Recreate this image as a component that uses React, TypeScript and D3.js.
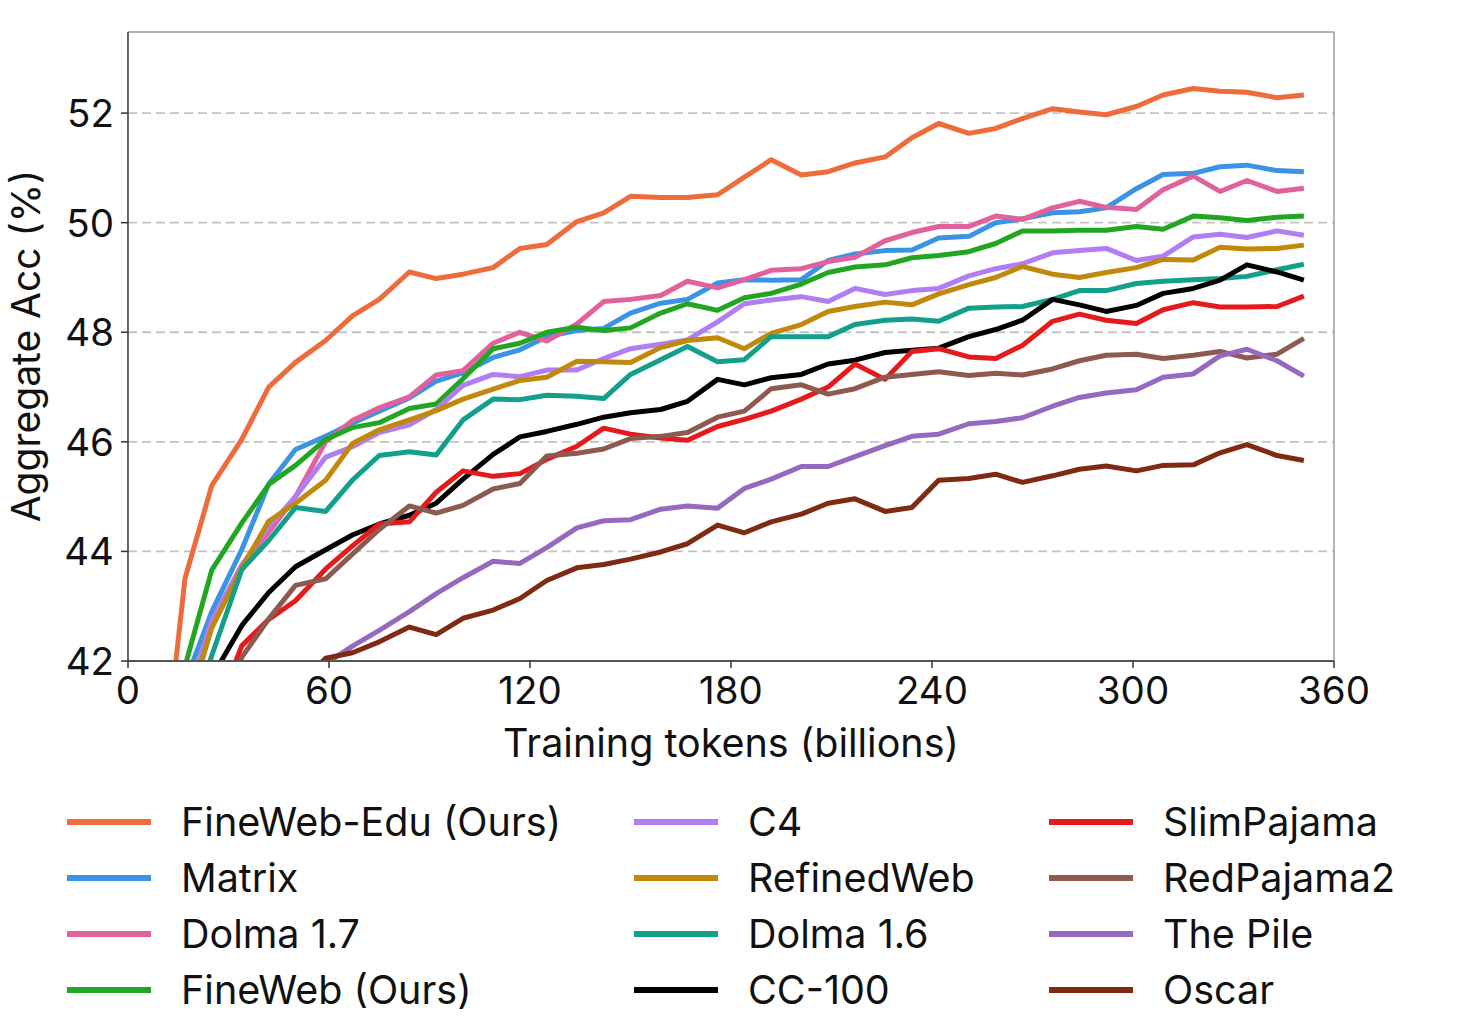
import * as d3 from "d3";

// training tokens (billions) at each checkpoint
const tokens = [8, 17, 25, 34, 42, 50, 59, 67, 75, 84, 92, 100, 109, 117, 125, 134, 142, 150, 159, 167, 176, 184, 192, 201, 209, 217, 226, 234, 242, 251, 259, 267, 276, 284, 292, 301, 309, 318, 326, 334, 343, 351];

const fineWebEdu = [38.5, 43.5, 45.2, 46.05, 47.0, 47.45, 47.85, 48.3, 48.6, 49.1, 48.98, 49.06, 49.18, 49.53, 49.6, 50.02, 50.18, 50.48, 50.46, 50.46, 50.51, 50.83, 51.15, 50.87, 50.93, 51.09, 51.2, 51.55, 51.81, 51.63, 51.72, 51.9, 52.08, 52.02, 51.97, 52.12, 52.33, 52.45, 52.4, 52.38, 52.28, 52.33];
const matrix = [37.5, 41.6, 42.9, 44.04, 45.23, 45.86, 46.1, 46.34, 46.56, 46.8, 47.11, 47.26, 47.54, 47.68, 47.92, 48.03, 48.07, 48.35, 48.53, 48.6, 48.9, 48.96, 48.95, 48.96, 49.31, 49.43, 49.49, 49.5, 49.72, 49.75, 50.0, 50.07, 50.18, 50.2, 50.27, 50.62, 50.88, 50.9, 51.02, 51.05, 50.95, 50.93];
const dolma17 = [37, 40.8, 42.7, 43.75, 44.35, 45.0, 46.0, 46.39, 46.62, 46.82, 47.22, 47.3, 47.8, 48.0, 47.84, 48.15, 48.56, 48.6, 48.67, 48.93, 48.81, 48.96, 49.13, 49.16, 49.29, 49.37, 49.67, 49.82, 49.93, 49.93, 50.12, 50.06, 50.27, 50.39, 50.28, 50.24, 50.6, 50.85, 50.57, 50.77, 50.57, 50.63];
const fineWeb = [37.5, 41.9, 43.66, 44.52, 45.22, 45.57, 46.04, 46.26, 46.35, 46.61, 46.69, 47.15, 47.7, 47.8, 48.0, 48.09, 48.03, 48.08, 48.35, 48.52, 48.4, 48.63, 48.71, 48.88, 49.09, 49.19, 49.23, 49.36, 49.4, 49.47, 49.62, 49.85, 49.85, 49.86, 49.86, 49.93, 49.88, 50.12, 50.09, 50.04, 50.1, 50.12];
const c4 = [37.2, 41.2, 42.75, 43.75, 44.45, 45.0, 45.72, 45.91, 46.17, 46.31, 46.59, 47.03, 47.23, 47.19, 47.31, 47.31, 47.52, 47.7, 47.78, 47.86, 48.19, 48.52, 48.59, 48.65, 48.56, 48.8, 48.69, 48.76, 48.8, 49.03, 49.16, 49.25, 49.45, 49.49, 49.53, 49.31, 49.39, 49.74, 49.79, 49.73, 49.85, 49.77];
const refinedWeb = [37, 41.0, 42.6, 43.7, 44.55, 44.88, 45.3, 45.97, 46.22, 46.4, 46.57, 46.78, 46.96, 47.12, 47.18, 47.47, 47.46, 47.45, 47.72, 47.85, 47.9, 47.7, 47.98, 48.14, 48.38, 48.47, 48.55, 48.5, 48.7, 48.87, 49.0, 49.2, 49.06, 49.0, 49.09, 49.18, 49.33, 49.32, 49.55, 49.52, 49.53, 49.59];
const dolma16 = [36.5, 40.5, 42.1, 43.67, 44.2, 44.8, 44.73, 45.3, 45.75, 45.82, 45.76, 46.4, 46.78, 46.77, 46.85, 46.83, 46.79, 47.23, 47.5, 47.74, 47.46, 47.5, 47.92, 47.92, 47.92, 48.14, 48.22, 48.24, 48.2, 48.44, 48.46, 48.47, 48.6, 48.76, 48.76, 48.89, 48.93, 48.96, 48.98, 49.02, 49.14, 49.24];
const cc100 = [36, 40.0, 41.7, 42.65, 43.25, 43.72, 44.03, 44.3, 44.5, 44.66, 44.88, 45.32, 45.77, 46.09, 46.19, 46.32, 46.45, 46.53, 46.59, 46.74, 47.14, 47.04, 47.17, 47.23, 47.42, 47.49, 47.63, 47.67, 47.71, 47.92, 48.05, 48.22, 48.6, 48.5, 48.38, 48.49, 48.71, 48.8, 48.95, 49.23, 49.1, 48.95];
const slimPajama = [36, 39.5, 40.9, 42.28, 42.76, 43.1, 43.68, 44.1, 44.5, 44.54, 45.08, 45.47, 45.37, 45.42, 45.68, 45.92, 46.25, 46.14, 46.07, 46.03, 46.28, 46.41, 46.56, 46.78, 47.0, 47.42, 47.14, 47.65, 47.7, 47.55, 47.52, 47.76, 48.2, 48.33, 48.22, 48.16, 48.41, 48.54, 48.46, 48.46, 48.47, 48.66];
const redPajama2 = [36, 39.3, 40.6, 42.07, 42.77, 43.38, 43.5, 43.95, 44.4, 44.83, 44.7, 44.84, 45.14, 45.24, 45.74, 45.79, 45.87, 46.06, 46.1, 46.17, 46.45, 46.56, 46.97, 47.04, 46.87, 46.97, 47.18, 47.23, 47.28, 47.21, 47.25, 47.22, 47.33, 47.48, 47.58, 47.6, 47.52, 47.58, 47.65, 47.53, 47.6, 47.89];
const thePile = [37, 38.3, 39.3, 40.2, 40.9, 41.5, 41.95, 42.27, 42.56, 42.9, 43.23, 43.52, 43.82, 43.78, 44.07, 44.43, 44.56, 44.58, 44.77, 44.83, 44.79, 45.15, 45.32, 45.55, 45.55, 45.73, 45.93, 46.1, 46.14, 46.33, 46.37, 46.44, 46.65, 46.81, 46.89, 46.95, 47.18, 47.24, 47.57, 47.69, 47.48, 47.2];
const oscar = [37.5, 38.5, 39.5, 40.3, 41.0, 41.5, 42.05, 42.15, 42.35, 42.62, 42.48, 42.78, 42.93, 43.14, 43.47, 43.7, 43.76, 43.86, 43.99, 44.14, 44.48, 44.34, 44.54, 44.68, 44.88, 44.96, 44.73, 44.8, 45.3, 45.33, 45.41, 45.26, 45.38, 45.5, 45.56, 45.47, 45.57, 45.58, 45.8, 45.95, 45.75, 45.66];

const xTicks = [0, 60, 120, 180, 240, 300, 360];
const yTicks = [42, 44, 46, 48, 50, 52];

const series = [
  { name: "FineWeb-Edu (Ours)", color: "#ee6b3b", values: fineWebEdu },
  { name: "Matrix", color: "#3a93e3", values: matrix },
  { name: "Dolma 1.7", color: "#e0619b", values: dolma17 },
  { name: "FineWeb (Ours)", color: "#22a622", values: fineWeb },
  { name: "C4", color: "#b07df3", values: c4 },
  { name: "RefinedWeb", color: "#c0890b", values: refinedWeb },
  { name: "Dolma 1.6", color: "#12a08a", values: dolma16 },
  { name: "CC-100", color: "#000000", values: cc100 },
  { name: "SlimPajama", color: "#e41a1c", values: slimPajama },
  { name: "RedPajama2", color: "#8e5a4f", values: redPajama2 },
  { name: "The Pile", color: "#9569c0", values: thePile },
  { name: "Oscar", color: "#7e2b12", values: oscar },
];

const FONT = "Inter, 'DejaVu Sans', sans-serif";
const left = 128, right = 1334, top = 32, bottom = 661;

export default function App() {
  const x = d3.scaleLinear().domain([0, 360]).range([left, right]);
  const y = d3.scaleLinear().domain([42, 53.48]).range([bottom, top]);
  const line = d3
    .line<number>()
    .x((_, i) => x(tokens[i]))
    .y((d) => y(d));

  const legendCols = [
    { line: 67, text: 181 },
    { line: 634, text: 748 },
    { line: 1049, text: 1163 },
  ];

  return (
    <svg
      width={1468}
      height={1032}
      style={{ position: "absolute", left: 0, top: 0, background: "#fff" }}
      fontFamily={FONT}
    >
      <defs>
        <clipPath id="plot">
          <rect x={left} y={top} width={right - left} height={bottom - top} />
        </clipPath>
      </defs>

      {/* grid */}
      {yTicks.slice(1).map((t) => (
        <line key={t} x1={left} x2={right} y1={y(t)} y2={y(t)} stroke="#c2c2c2" strokeWidth={1.8} strokeDasharray="9 5" />
      ))}

      {/* series */}
      <g clipPath="url(#plot)">
        {series.map((s) => (
          <path key={s.name} d={line(s.values) ?? ""} fill="none" stroke={s.color} strokeWidth={5} strokeLinejoin="round" />
        ))}
      </g>

      {/* spines */}
      <line x1={left} x2={right} y1={top} y2={top} stroke="#9a9a9a" strokeWidth={1.5} />
      <line x1={right} x2={right} y1={top} y2={bottom} stroke="#9a9a9a" strokeWidth={1.5} />
      <line x1={left} x2={left} y1={top} y2={bottom} stroke="#555" strokeWidth={1.8} />
      <line x1={left} x2={right} y1={bottom} y2={bottom} stroke="#555" strokeWidth={1.8} />

      {/* x axis */}
      {xTicks.map((t) => (
        <g key={t}>
          <line x1={x(t)} x2={x(t)} y1={bottom} y2={bottom + 7} stroke="#333" strokeWidth={1.5} />
          <text x={x(t)} y={704} textAnchor="middle" fontSize={38.5} fill="#111">
            {t}
          </text>
        </g>
      ))}
      <text x={731} y={757} textAnchor="middle" fontSize={39.5} fill="#111">
        Training tokens (billions)
      </text>

      {/* y axis */}
      {yTicks.map((t) => (
        <g key={t}>
          <line x1={left - 7} x2={left} y1={y(t)} y2={y(t)} stroke="#333" strokeWidth={1.5} />
          <text x={114} y={y(t) + 14} textAnchor="end" fontSize={38.5} fill="#111">
            {t}
          </text>
        </g>
      ))}
      <text transform="translate(40,346) rotate(-90)" textAnchor="middle" fontSize={39} fill="#111">
        Aggregate Acc (%)
      </text>

      {/* legend */}
      {series.map((s, i) => {
        const col = legendCols[Math.floor(i / 4)];
        const cy = 822 + (i % 4) * 56;
        return (
          <g key={s.name}>
            <line x1={col.line} x2={col.line + 84} y1={cy} y2={cy} stroke={s.color} strokeWidth={6} />
            <text x={col.text} y={cy + 14} fontSize={39.5} fill="#111">
              {s.name}
            </text>
          </g>
        );
      })}
    </svg>
  );
}
